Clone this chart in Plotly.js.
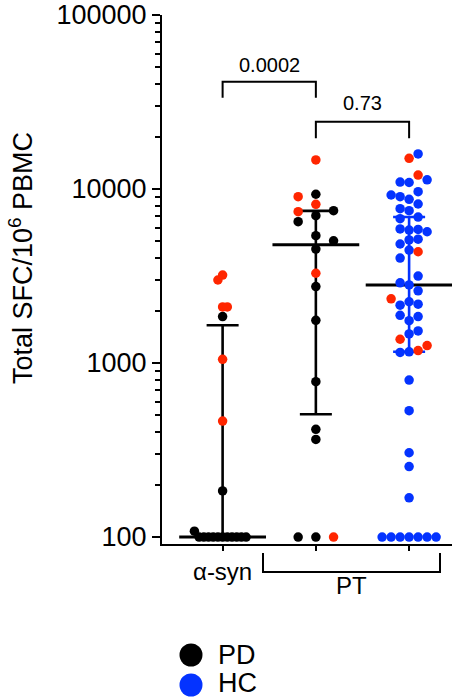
<!DOCTYPE html>
<html><head><meta charset="utf-8">
<script src="https://cdn.plot.ly/plotly-3.0.1.min.js"></script>
<style>html,body{margin:0;padding:0;background:#fff}</style>
</head><body><div id="chart" style="width:473px;height:699px"></div>
<script>
// ---------------- DATA ----------------
const groupLabels = ['α-syn', 'PT'];
const yTickLabels = ['100', '1000', '10000', '100000'];
const yTickValues = [100, 1000, 10000, 100000];
const yTitle = 'Total SFC/10<sup>6</sup> PBMC';
const pValueLabels = ['0.0002', '0.73'];
const legendLabels = ['PD', 'HC'];

// α-syn stimulation, PD donors (SFC / 10^6 PBMC); highlight = red donors
const asynValues = [1850, 3200, 3000, 2100, 2100, 1050, 464, 184,
  100, 100, 100, 100, 100, 100, 100, 100, 100, 100, 100, 108];
const asynHighlight = [0, 1, 1, 1, 1, 1, 1, 0,
  0, 0, 0, 0, 0, 0, 0, 0, 0, 0, 0, 0];

// PT stimulation, PD donors
const ptPdValues = [14700, 9330, 8170, 7510, 9030, 7030, 6490, 7410, 5390, 5040,
  4520, 3280, 2750, 1760, 781, 416, 364, 100, 100, 100];
const ptPdHighlight = [1, 0, 1, 0, 1, 0, 0, 1, 0, 0,
  0, 1, 0, 0, 0, 0, 0, 0, 0, 1];

// PT stimulation, HC donors
const ptHcValues = [15000, 15900, 10900, 10970, 12030, 11300, 9650, 8730, 9030, 9240,
  7510, 8200, 7710, 6900, 6750, 5810, 5860, 5900, 5680, 5100,
  4830, 5150, 4460, 4360, 4010, 2810, 3160, 2890, 2600, 2250,
  2150, 2180, 2340, 1750, 1850, 1880, 1470, 1370, 1530, 1160,
  1180, 1150, 1260, 798, 532, 305, 254, 168,
  100, 100, 100, 100, 100, 100, 100];
const ptHcHighlight = [1, 0, 0, 0, 1, 0, 0, 0, 0, 0,
  0, 0, 0, 0, 0, 0, 0, 0, 0, 0,
  0, 0, 0, 1, 0, 0, 0, 0, 0, 0,
  0, 0, 1, 0, 0, 0, 0, 1, 0, 0,
  1, 0, 1, 0, 0, 0, 0, 0,
  0, 0, 0, 0, 0, 0, 0];

// ---------------- LAYOUT / STYLE ----------------
const W = 473, H = 699;
const M = {l: 162, r: 21, t: 15, b: 155};
const xRange = [0.35, 3.46];
const yRange = [1.96, 5];
const plotW = W - M.l - M.r, plotH = H - M.t - M.b;
const pxPerX = plotW / (xRange[1] - xRange[0]);
const pxPerDecade = plotH / (yRange[1] - yRange[0]);
const groupX = [1, 2, 3];
const stepPx = [4.7, 17.7, 9];
const tieSide = [-1, 1, 1];
const DOT = 9.5, MINSEP = 9.5;
const BLACK = '#000000', BLUE = '#0433FF', RED = '#FF2600';
const FONT = 'Liberation Sans, Arial, Helvetica, sans-serif';

// beeswarm: slots of fixed pixel step, greedy in data order
function swarm(values, center, step, side) {
  const placed = [];
  return values.map(v => {
    const y = Math.log10(v) * pxPerDecade;
    const blocked = s => placed.some(p => p.slot === s && Math.abs(p.y - y) < MINSEP);
    const clear = s => placed.reduce((m, p) => p.slot === s ? Math.min(m, Math.abs(p.y - y)) : m, Infinity);
    let slot = 0;
    if (blocked(0)) {
      for (let k = 1; k < 30; k++) {
        const pOk = !blocked(k), nOk = !blocked(-k);
        if (pOk && nOk) {
          const cn = clear(-k), cp = clear(k);
          slot = cn === cp ? side * k : (cn > cp ? -k : k);
          break;
        }
        if (pOk) { slot = k; break; }
        if (nOk) { slot = -k; break; }
      }
    }
    placed.push({slot, y});
    return center + slot * step / pxPerX;
  });
}

function quantile(vals, p) {
  const s = vals.slice().sort((a, b) => a - b);
  const pos = p * (s.length + 1);
  const lo = Math.floor(pos), f = pos - lo;
  if (lo < 1) return s[0];
  if (lo >= s.length) return s[s.length - 1];
  return s[lo - 1] + f * (s[lo] - s[lo - 1]);
}

const groups = [
  {vals: asynValues, hl: asynHighlight, color: BLACK},
  {vals: ptPdValues, hl: ptPdHighlight, color: BLACK},
  {vals: ptHcValues, hl: ptHcHighlight, color: BLUE}
];

const traces = [];
// error bars (interquartile range)
groups.forEach((g, i) => {
  const med = quantile(g.vals, 0.5), q1 = quantile(g.vals, 0.25), q3 = quantile(g.vals, 0.75);
  g.med = med;
  traces.push({
    type: 'scatter', mode: 'markers', x: [groupX[i]], y: [med], showlegend: false, hoverinfo: 'skip',
    marker: {size: 1, color: 'rgba(0,0,0,0)'},
    error_y: {type: 'data', symmetric: false, array: [q3 - med], arrayminus: [med - q1],
      color: g.color, thickness: 2.6, width: 16}
  });
});
// median lines
traces.push({
  type: 'scatter', mode: 'markers', x: groupX, y: groups.map(g => g.med), showlegend: false, hoverinfo: 'skip',
  marker: {symbol: 'line-ew', size: 62, color: BLACK, line: {width: 3, color: BLACK}}
});
// dots
const dots = {main: {x: [], y: [], c: []}, red: {x: [], y: []}};
groups.forEach((g, i) => {
  const xs = swarm(g.vals, groupX[i], stepPx[i], tieSide[i]);
  g.vals.forEach((v, j) => {
    if (g.hl[j]) { dots.red.x.push(xs[j]); dots.red.y.push(v); }
    else { dots.main.x.push(xs[j]); dots.main.y.push(v); dots.main.c.push(g.color); }
  });
});
traces.push({type: 'scatter', mode: 'markers', x: dots.main.x, y: dots.main.y, showlegend: false,
  marker: {size: DOT, color: dots.main.c, line: {width: 0}}});
traces.push({type: 'scatter', mode: 'markers', x: dots.red.x, y: dots.red.y, showlegend: false,
  marker: {size: DOT, color: RED, line: {width: 0}}});

// minor ticks
const minorVals = [];
for (let d = 100; d < 100000; d *= 10) for (let k = 2; k <= 9; k++) minorVals.push(k * d);

const py = px => (H - M.b - px) / plotH; // pixel row -> paper y
const pxX = px => (px - M.l) / plotW;      // pixel col -> paper x
const lineStyle = {color: BLACK, width: 2};

const shapes = [
  // 0.0002 bracket (α-syn vs PT PD)
  {type: 'path', xref: 'x', yref: 'paper', line: lineStyle,
   path: `M1,${py(97.7)} L1,${py(81.7)} L2,${py(81.7)} L2,${py(97.7)}`},
  // 0.73 bracket (PT PD vs PT HC)
  {type: 'path', xref: 'x', yref: 'paper', line: lineStyle,
   path: `M2,${py(138.3)} L2,${py(121.7)} L3,${py(121.7)} L3,${py(138.3)}`},
  // PT group bracket below axis
  {type: 'path', xref: 'paper', yref: 'paper', line: lineStyle,
   path: `M${pxX(263)},${py(553)} L${pxX(263)},${py(572)} L${pxX(440)},${py(572)} L${pxX(440)},${py(553)}`},
  // legend dots
  {type: 'circle', xref: 'paper', yref: 'paper', xsizemode: 'pixel', ysizemode: 'pixel',
   xanchor: pxX(191), yanchor: py(655), x0: -11.5, x1: 11.5, y0: -11.5, y1: 11.5,
   fillcolor: BLACK, line: {width: 0}},
  {type: 'circle', xref: 'paper', yref: 'paper', xsizemode: 'pixel', ysizemode: 'pixel',
   xanchor: pxX(191), yanchor: py(685), x0: -11.5, x1: 11.5, y0: -11.5, y1: 11.5,
   fillcolor: BLUE, line: {width: 0}}
];

const annotations = [
  {text: yTitle, xref: 'paper', yref: 'paper', x: pxX(21), y: py(258), textangle: -90, showarrow: false,
   xanchor: 'center', yanchor: 'middle', font: {size: 27, color: BLACK, family: FONT}},
  {text: pValueLabels[0], xref: 'x', yref: 'paper', x: 1.5, y: py(65), showarrow: false,
   xanchor: 'center', yanchor: 'middle', font: {size: 20, color: BLACK, family: FONT}},
  {text: pValueLabels[1], xref: 'x', yref: 'paper', x: 2.5, y: py(103), showarrow: false,
   xanchor: 'center', yanchor: 'middle', font: {size: 20, color: BLACK, family: FONT}},
  {text: groupLabels[1], xref: 'paper', yref: 'paper', x: pxX(351), y: py(585), showarrow: false,
   xanchor: 'center', yanchor: 'middle', font: {size: 24, color: BLACK, family: FONT}},
  {text: legendLabels[0], xref: 'paper', yref: 'paper', x: pxX(216), y: py(655), showarrow: false,
   xanchor: 'left', yanchor: 'middle', font: {size: 27, color: BLACK, family: FONT}},
  {text: legendLabels[1], xref: 'paper', yref: 'paper', x: pxX(216), y: py(682.5), showarrow: false,
   xanchor: 'left', yanchor: 'middle', font: {size: 27, color: BLACK, family: FONT}}
];

const layout = {
  width: W, height: H, margin: M, showlegend: false,
  paper_bgcolor: '#fff', plot_bgcolor: '#fff',
  font: {family: FONT, color: BLACK},
  xaxis: {range: xRange, showgrid: false, zeroline: false, showline: true, linecolor: BLACK, linewidth: 2,
    tickmode: 'array', tickvals: [groupX[0]], ticktext: [groupLabels[0]],
    ticks: 'outside', ticklen: 5, tickwidth: 2, tickcolor: BLACK,
    tickfont: {size: 24, color: BLACK, family: FONT},
    minor: {tickmode: 'array', tickvals: groupX.slice(1), ticks: 'outside', ticklen: 5, tickwidth: 2, tickcolor: BLACK}},
  yaxis: {type: 'log', range: yRange, showgrid: false, zeroline: false, showline: true, linecolor: BLACK, linewidth: 2,
    tickmode: 'array', tickvals: yTickValues, ticktext: yTickLabels,
    ticks: 'outside', ticklen: 8, tickwidth: 2, tickcolor: BLACK,
    tickfont: {size: 27, color: BLACK, family: FONT},
    minor: {tickmode: 'array', tickvals: minorVals, ticks: 'outside', ticklen: 5, tickwidth: 2, tickcolor: BLACK}},
  shapes, annotations
};

Plotly.newPlot('chart', traces, layout, {staticPlot: true, displayModeBar: false});
</script></body></html>
